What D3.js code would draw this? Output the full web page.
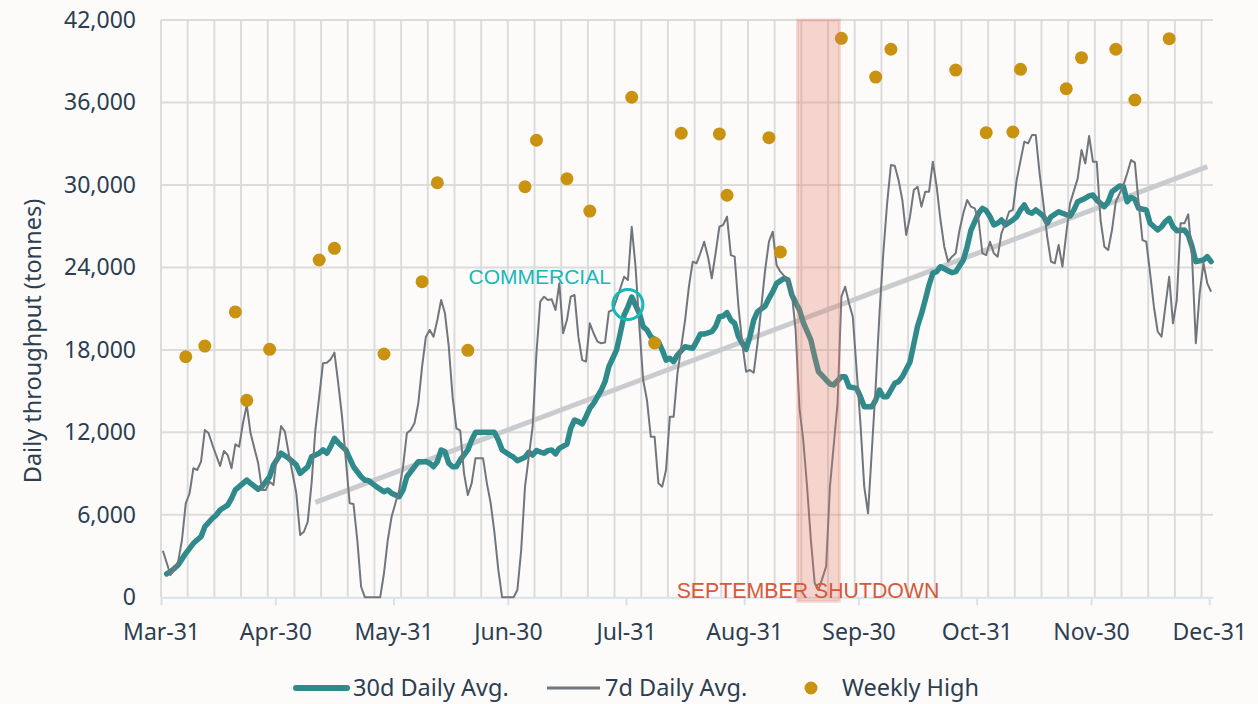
<!DOCTYPE html>
<html>
<head>
<meta charset="utf-8">
<script src="https://cdn.jsdelivr.net/npm/d3@7"></script>
<style>
  body { margin: 0; background: #fcfbfa; }
  svg { display: block; }
  .grid line { stroke: #dcdcdc; stroke-width: 2; }
  .tick text { font-family: "Noto Sans", sans-serif; font-size: 23px; fill: #2c3e50; }
  .x.axis path, .x.axis line { stroke: #d7e2eb; stroke-width: 2; }
</style>
</head>
<body>
<svg id="chart" width="1258" height="704"></svg>
<script>
// ---- data (days counted from Mar-31, one value per day) ----
var startDate = "2021-03-31"
var endDate = "2022-01-01"

var monthTicks = ["2021-03-31", "2021-04-30", "2021-05-31", "2021-06-30", "2021-07-31",
                  "2021-08-31", "2021-09-30", "2021-10-31", "2021-11-30", "2021-12-31"]
var yTicks = [0, 6000, 12000, 18000, 24000, 30000, 36000, 42000]
var seriesNames = ["30d Daily Avg.", "7d Daily Avg.", "Weekly High"]

// 7 day average
var avg7Day = [0,2,4,5,6,7,8,9,10,11,12,13,15,16,17,18,19,20,21,22,23,25,26,27,28,29,30,31,32,33,
  35,36,37,38,39,40,42,43,44,45,46,47,48,49,50,51,52,53,57,58,59,60,61,62,63,64,65,66,67,68,
  69,70,71,72,73,74,75,76,77,78,79,80,81,82,84,85,86,87,88,89,92,93,94,95,97,98,99,100,101,102,
  103,104,105,106,107,108,109,110,111,112,113,114,115,116,117,118,119,121,122,123,124,125,126,127,128,129,130,131,
  132,133,134,135,137,138,139,140,141,142,143,144,145,146,147,148,149,150,151,152,153,154,155,156,157,158,
  159,160,161,162,164,165,166,167,168,169,170,171,172,173,174,175,177,178,179,180,181,182,183,184,185,186,
  187,188,189,190,191,192,193,194,195,196,197,198,199,200,201,202,203,204,205,206,207,208,209,210,211,212,
  213,214,215,216,217,218,219,220,221,222,223,224,226,227,228,229,230,231,232,233,234,235,236,237,238,240,
  241,242,243,244,245,246,247,248,249,250,252,253,254,255,256,257,258,259,260,261,262,263,264,265,266,267,
  268,269,270,271,272,273,274,275]
var avg7 = [3390,1620,2590,4170,6840,7570,9390,9260,9870,12170,11930,11080,9550,10640,10350,9390,11130,10960,12660,13990,11930,9750,7810,7810,8410,8170,10480,12460,12050,10480,
  7570,4530,4770,5500,8290,12170,17020,17070,17310,17800,15570,13140,9990,6840,6790,4170,770,0,0,1750,4170,5860,6840,7810,9500,11930,12170,12660,14110,16780,
  18960,19450,18960,20170,21630,20660,18230,14590,12290,12120,9020,7440,8290,10110,10110,8290,6840,4660,1990,0,0,530,3440,8050,12410,17750,21510,21870,21630,21680,
  20900,22840,19210,20170,21870,21990,18960,17260,17140,19930,19210,18600,18480,18540,20780,20900,21630,23320,23080,26960,24050,19690,15810,14350,11680,11680,8290,8050,
  9260,13140,13140,16300,20170,22600,24420,24300,25030,25870,24780,23210,25030,26960,27090,27690,24900,24780,21140,18480,16410,16540,16340,18480,21140,23810,
  25870,26600,24180,23690,23080,22120,19450,13770,11440,8050,4170,1020,530,1380,2230,8050,14110,21870,22600,21390,20410,16540,12660,8050,6110,10720,
  15320,20660,25030,28660,31450,31400,30360,28900,26360,27690,29630,29870,28420,29510,29510,31690,29870,27450,25510,24420,24780,25030,26720,27940,28900,28420,
  28300,27450,25030,24900,25870,25030,24780,26480,27210,28050,28180,30380,33150,33030,33630,33630,30850,28660,26230,24420,24300,25630,24050,26480,28660,30480,
  32540,31570,33560,31690,31690,27450,25510,25270,26720,28780,29990,30850,31810,31620,28660,25990,25870,23570,21140,19320,18960,21140,23320,19930,21630,27210,
  27210,27860,24780,18480,22120,24300,22840,22230]

// 30 day average
var avg30Day = [1,2,4,6,7,8,10,11,13,14,15,17,18,19,21,22,23,25,26,28,29,31,33,35,36,38,39,41,42,43,
  44,45,46,48,49,50,52,53,54,56,58,59,60,62,63,64,66,67,69,70,71,72,73,74,75,76,77,78,80,81,
  82,85,87,88,89,91,92,93,95,96,97,98,100,101,102,103,104,106,107,108,109,110,111,112,113,115,116,117,119,120,
  121,122,123,125,126,127,128,130,131,132,133,134,135,136,137,139,140,141,142,144,145,146,147,148,149,150,151,152,153,154,
  155,156,158,159,160,161,163,164,165,167,168,170,171,172,174,175,176,178,179,180,182,183,184,186,187,188,189,190,192,193,
  194,196,197,198,199,200,201,202,203,204,206,207,208,210,211,212,214,215,216,217,218,219,220,221,223,224,225,226,227,228,
  229,231,232,233,235,236,238,239,240,242,243,244,245,247,248,249,251,252,253,254,255,256,258,259,261,262,263,264,265,266,
  268,269,270,271,273,274,275]
var avg30 = [1700,1860,2350,3200,3560,3930,4410,5140,5750,5990,6350,6710,7200,7810,8290,8530,8290,7860,8050,8770,9630,10480,10110,9630,9020,9500,10230,10480,10720,10480,
  10960,11570,11250,10720,10110,9500,8770,8530,8480,8050,7680,7810,7570,7320,7810,8770,9500,9870,9870,9750,9500,9870,10720,10590,9750,9500,9500,9990,10720,11440,
  12000,12000,12000,11440,10720,10350,10190,9940,10190,10550,10350,10670,10480,10670,10720,10430,10840,11150,12300,12900,12780,12610,13140,13750,14110,15080,15690,16780,17990,19210,
  20540,21130,21850,20660,19690,19450,18960,18600,17990,17260,17390,17140,17630,17940,18230,18110,18600,19150,19150,19320,19690,20410,20460,20710,20170,19930,18960,18480,18040,18960,
  20170,20780,21190,21750,22230,22840,23210,23080,21990,20900,20000,18720,17500,16410,15810,15520,15450,16050,16050,15320,15200,14590,13870,13870,14350,15080,14590,14590,15570,15690,
  16050,17120,18430,19740,20610,21630,22720,23590,23690,24050,23760,23620,23690,24540,25510,26720,27940,28300,28130,27690,27090,27210,27450,27090,27450,27690,28180,28540,28050,27940,
  28180,27740,27210,27690,28050,27940,27740,28180,28780,29030,29200,29270,28900,28420,28780,29510,29920,29870,28780,29100,28950,28300,28180,27210,26720,26960,27330,27570,26960,26670,
  26720,26360,25510,24420,24540,24780,24420]

// weekly high
var weeklyHighDay = [6,11,19,22,28,41,45,58,68,72,80,95,98,106,112,123,129,136,146,148,159,162,178,187,191,208,216,223,225,237,241,250,255,264]
var weeklyHigh = [17500,18280,20760,14330,18040,24540,25390,17700,22960,30160,17970,29870,33250,30450,28100,36380,18500,33760,33710,29250,
  33440,25120,40670,37850,39870,38360,33800,33850,38410,37000,39260,39870,36180,40640]

// trend line end points
var trendDay = [40, 274]
var trendValue = [6900, 31330]

// annotations
var shutdownStart = "2021-09-14"
var shutdownEnd = "2021-09-25"
var shutdownLabel = "SEPTEMBER SHUTDOWN"
var commercialDay = 122
var commercialValue = 21300
var commercialLabel = "COMMERCIAL"

// ---- chart ----
function buildThroughputChart()
{
var left = 161, right = 1213, top = 20, bottom = 597.3

var parse = d3.utcParse("%Y-%m-%d")
var start = parse(startDate)

var xScale = d3.scaleUtc()
    .domain([start, parse(endDate)])
    .range([left, right])

var yScale = d3.scaleLinear()
    .domain([0, 42000])
    .range([bottom, top])

// each day sits in the middle of its slot (category style axis)
function dayX(i) {
    return xScale(d3.utcHour.offset(d3.utcDay.offset(start, i), 12))
}

var svg = d3.select("#chart")

// weekly vertical gridlines
svg.append("g")
    .attr("class", "grid")
    .selectAll("line")
    .data(d3.range(0, 276, 7))
    .join("line")
    .attr("x1", function(d) { return xScale(d3.utcDay.offset(start, d)) })
    .attr("x2", function(d) { return xScale(d3.utcDay.offset(start, d)) })
    .attr("y1", top)
    .attr("y2", bottom)

// horizontal gridlines
svg.append("g")
    .attr("class", "grid")
    .selectAll("line")
    .data(yTicks.filter(function(d) { return d > 0 }))
    .join("line")
    .attr("x1", left)
    .attr("x2", right)
    .attr("y1", function(d) { return yScale(d) })
    .attr("y2", function(d) { return yScale(d) })

// x axis
svg.append("g")
    .attr("class", "x axis")
    .attr("transform", "translate(0," + bottom + ")")
    .call(d3.axisBottom(xScale)
        .tickValues(monthTicks.map(parse))
        .tickFormat(d3.utcFormat("%b-%d"))
        .tickSize(8)
        .tickSizeOuter(0)
        .tickPadding(18))

// y axis
svg.append("g")
    .attr("class", "y axis")
    .attr("transform", "translate(" + left + ",0)")
    .call(d3.axisLeft(yScale)
        .tickValues(yTicks)
        .tickFormat(d3.format(","))
        .tickSize(0)
        .tickPadding(25))
    .call(function(g) { g.select(".domain").remove() })

svg.append("text")
    .attr("transform", "translate(41,341) rotate(-90)")
    .attr("text-anchor", "middle")
    .style("font-family", "Noto Sans, sans-serif")
    .style("font-size", "23.5px")
    .style("fill", "#2c3e50")
    .text("Daily throughput (tonnes)")

// trend line
svg.append("line")
    .attr("x1", dayX(trendDay[0]))
    .attr("y1", yScale(trendValue[0]))
    .attr("x2", dayX(trendDay[1]))
    .attr("y2", yScale(trendValue[1]))
    .style("stroke", "#c9cbce")
    .style("stroke-width", 5)

// 30d avg
var line30 = d3.line()
    .x(function(d, i) { return dayX(avg30Day[i]) })
    .y(function(d) { return yScale(d) })

svg.append("path")
    .datum(avg30)
    .attr("d", line30)
    .style("fill", "none")
    .style("stroke", "#2e8a8b")
    .style("stroke-width", 5.5)
    .style("stroke-linejoin", "round")
    .style("stroke-linecap", "round")

// 7d avg
var line7 = d3.line()
    .x(function(d, i) { return dayX(avg7Day[i]) })
    .y(function(d) { return yScale(d) })

svg.append("path")
    .datum(avg7)
    .attr("d", line7)
    .style("fill", "none")
    .style("stroke", "#71767d")
    .style("stroke-width", 2)
    .style("stroke-linejoin", "round")

// weekly highs
svg.append("g")
    .selectAll("circle")
    .data(weeklyHigh)
    .join("circle")
    .attr("cx", function(d, i) { return dayX(weeklyHighDay[i]) })
    .attr("cy", function(d) { return yScale(d) })
    .attr("r", 6.5)
    .style("fill", "#c99311")

// shutdown band (over the lines, see-through)
svg.append("rect")
    .attr("x", xScale(parse(shutdownStart)))
    .attr("y", top)
    .attr("width", xScale(parse(shutdownEnd)) - xScale(parse(shutdownStart)))
    .attr("height", bottom - top + 4)
    .style("fill", "#e07a68")
    .style("fill-opacity", 0.3)
    .style("stroke", "#e07a68")
    .style("stroke-opacity", 0.25)
    .style("stroke-width", 3)

svg.append("text")
    .attr("x", 808)
    .attr("y", bottom + 1)
    .attr("text-anchor", "middle")
    .style("font-family", "Liberation Sans, Arial, sans-serif")
    .style("font-size", "21.3px")
    .style("fill", "#d9583b")
    .text(shutdownLabel)

// commercial marker
var cx = dayX(commercialDay), cy = yScale(commercialValue)
svg.append("circle")
    .attr("cx", cx)
    .attr("cy", cy)
    .attr("r", 15)
    .style("fill", "none")
    .style("stroke", "#16b8b8")
    .style("stroke-width", 3)

svg.append("text")
    .attr("x", cx - 17)
    .attr("y", cy - 21)
    .attr("text-anchor", "end")
    .style("font-family", "Liberation Sans, Arial, sans-serif")
    .style("font-size", "21px")
    .style("fill", "#16b8b8")
    .text(commercialLabel)

// legend
var legendX = [293, 547, 811]
var legendG = svg.append("g").attr("transform", "translate(0,688)")

legendG.append("line")
    .attr("x1", legendX[0] + 3).attr("x2", legendX[0] + 54)
    .style("stroke", "#2e8a8b").style("stroke-width", 6).style("stroke-linecap", "round")
legendG.append("line")
    .attr("x1", legendX[1]).attr("x2", legendX[1] + 53)
    .style("stroke", "#71767d").style("stroke-width", 3)
legendG.append("circle")
    .attr("cx", legendX[2]).attr("r", 6.5)
    .style("fill", "#c99311")

legendG.selectAll("text")
    .data(seriesNames)
    .join("text")
    .attr("x", function(d, i) { return [353, 605, 842][i] })
    .attr("y", 8)
    .style("font-family", "Noto Sans, sans-serif")
    .style("font-size", "23.5px")
    .style("fill", "#2c3e50")
    .text(function(d) { return d })
}

buildThroughputChart()
</script>
</body>
</html>
